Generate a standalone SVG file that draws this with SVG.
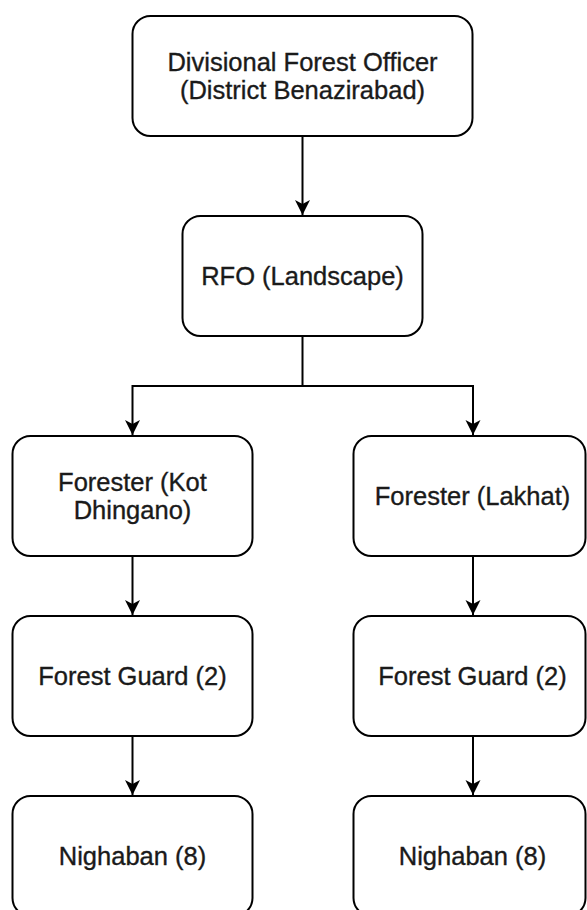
<svg xmlns="http://www.w3.org/2000/svg" width="587" height="910" viewBox="0 0 587 910">
<defs>
<style>
.box{fill:#fff;stroke:#000;stroke-width:2}
.lbl{font-family:"Liberation Sans",Arial,sans-serif;font-size:25.5px;fill:#1a1a1a;stroke:#1a1a1a;stroke-width:0.35;text-anchor:middle}
.edge{fill:none;stroke:#000;stroke-width:2}
</style>
<marker id="arr" viewBox="0 0 16 16" refX="15" refY="8" markerWidth="16" markerHeight="16" markerUnits="userSpaceOnUse" orient="auto">
<path d="M15,8 L0,0.5 L4,8 L0,15.5 Z" fill="#000"/>
</marker>
</defs>
<rect width="587" height="910" fill="#fff"/>
<g id="connectors">
<path class="edge" d="M302.5,136 V215" marker-end="url(#arr)"/>
<path class="edge" d="M302.5,336 V386 H132.5 V435" marker-end="url(#arr)"/>
<path class="edge" d="M302.5,386 H473 V435" marker-end="url(#arr)"/>
<path class="edge" d="M132.5,556 V615" marker-end="url(#arr)"/>
<path class="edge" d="M473,556 V615" marker-end="url(#arr)"/>
<path class="edge" d="M132.5,736 V795" marker-end="url(#arr)"/>
<path class="edge" d="M473,736 V795" marker-end="url(#arr)"/>
</g>
<g id="dfo">
<rect class="box" x="132.5" y="16" width="340" height="120" rx="18"/>
<text class="lbl" x="302.5" y="71">Divisional Forest Officer</text>
<text class="lbl" x="302.5" y="99">(District Benazirabad)</text>
</g>
<g id="rfo">
<rect class="box" x="182.5" y="216" width="240" height="120" rx="18"/>
<text class="lbl" x="302.5" y="285">RFO (Landscape)</text>
</g>
<g id="forester-kot">
<rect class="box" x="12.5" y="436" width="240" height="120" rx="18"/>
<text class="lbl" x="132.5" y="491">Forester (Kot</text>
<text class="lbl" x="132.5" y="519">Dhingano)</text>
</g>
<g id="forester-lakhat">
<rect class="box" x="353.5" y="436" width="232" height="120" rx="18"/>
<text class="lbl" x="472.5" y="505">Forester (Lakhat)</text>
</g>
<g id="guard-left">
<rect class="box" x="12.5" y="616" width="240" height="120" rx="18"/>
<text class="lbl" x="132.5" y="685">Forest Guard (2)</text>
</g>
<g id="guard-right">
<rect class="box" x="353.5" y="616" width="232" height="120" rx="18"/>
<text class="lbl" x="472.5" y="685">Forest Guard (2)</text>
</g>
<g id="nighaban-left">
<rect class="box" x="12.5" y="796" width="240" height="120" rx="18"/>
<text class="lbl" x="132.5" y="865">Nighaban (8)</text>
</g>
<g id="nighaban-right">
<rect class="box" x="353.5" y="796" width="232" height="120" rx="18"/>
<text class="lbl" x="472.5" y="865">Nighaban (8)</text>
</g>
</svg>
